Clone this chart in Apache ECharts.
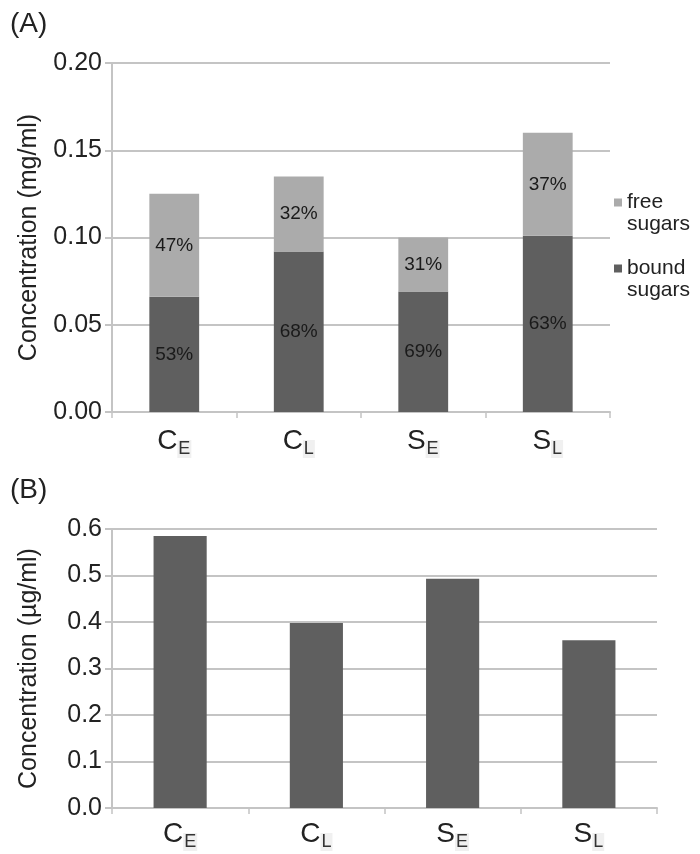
<!DOCTYPE html>
<html>
<head>
<meta charset="utf-8">
<style>html,body{margin:0;padding:0;background:#fff}#c{width:700px;height:854px}</style>
<script src="https://cdn.jsdelivr.net/npm/echarts@6/dist/echarts.min.js"></script>
</head>
<body>
<div id="c"></div>
<script>
// Categories (letter + subscript)
var catMain = ['C', 'C', 'S', 'S'];
var catSub = ['E', 'L', 'E', 'L'];
var categories = ['CE', 'CL', 'SE', 'SL'];

// Panel A: sugars (mg/ml)
var boundSugars = [0.066, 0.092, 0.069, 0.101];
var freeSugars = [0.059, 0.043, 0.031, 0.059];
var boundPct = ['53%', '68%', '69%', '63%'];
var freePct = ['47%', '32%', '31%', '37%'];
var legendNames = ['free\nsugars', 'bound\nsugars'];

// Panel B: concentration (µg/ml)
var concB = [0.585, 0.398, 0.493, 0.361];

var FONT = 'Liberation Sans, Arial, sans-serif';
var GRID = '#c4c4c4';
var DARK = '#5f5f5f';
var LIGHT = '#ababab';

function catLabel(v) {
  var idx = categories.indexOf(v);
  return '{m|' + catMain[idx] + '}{s|' + catSub[idx] + '}';
}
var catRich = {
  m: {fontSize: 28, fontFamily: FONT, color: '#222', lineHeight: 34},
  s: {fontSize: 18, fontFamily: FONT, color: '#333', lineHeight: 19, verticalAlign: 'bottom', padding: [0, 1, 0, 1], backgroundColor: '#f0f0f0'}
};

function xAxisCfg(gi, margin) {
  return {
    type: 'category', gridIndex: gi, data: categories,
    axisLine: {lineStyle: {color: GRID, width: 2}},
    axisTick: {show: true, length: 6, lineStyle: {color: GRID, width: 1.5}},
    axisLabel: {formatter: catLabel, rich: catRich, margin: margin}
  };
}
function yAxisCfg(gi, max, interval, dec, name) {
  return {
    type: 'value', gridIndex: gi, min: 0, max: max, interval: interval,
    name: name, nameLocation: 'middle', nameGap: 70,
    nameTextStyle: {fontSize: 25, fontFamily: FONT, color: '#222'},
    axisLine: {show: true, lineStyle: {color: GRID, width: 2}},
    axisTick: {show: true, length: 7, lineStyle: {color: GRID, width: 2}},
    splitLine: {lineStyle: {color: GRID, width: 2}},
    axisLabel: {fontSize: 25, fontFamily: FONT, color: '#222', margin: 10,
      formatter: function (v) { return v.toFixed(dec); }}
  };
}

var chart = echarts.init(document.getElementById('c'));
chart.setOption({
  animation: false,
  backgroundColor: '#fff',
  title: [
    {text: '(A)', left: 10, top: 10, padding: 0, textStyle: {fontSize: 28, fontWeight: 'normal', fontFamily: FONT, color: '#222'}},
    {text: '(B)', left: 10, top: 476, padding: 0, textStyle: {fontSize: 28, fontWeight: 'normal', fontFamily: FONT, color: '#222'}}
  ],
  legend: {
    data: legendNames,
    orient: 'vertical', left: 614, top: 170, padding: 0, itemGap: 1,
    icon: 'rect', itemWidth: 8, itemHeight: 8,
    formatter: function (n) {
      var parts = n.split('\n');
      return '{e|\u00a0}\n{t|' + parts[0] + '}\n{t|' + parts[1] + '}';
    },
    textStyle: {
      rich: {
        e: {fontSize: 21, lineHeight: 22, fontFamily: FONT},
        t: {fontSize: 21, lineHeight: 22, fontFamily: FONT, color: '#222'}
      }
    }
  },
  grid: [
    {left: 112, top: 63, width: 498, height: 349},
    {left: 112, top: 529, width: 545, height: 279}
  ],
  xAxis: [xAxisCfg(0, 12), xAxisCfg(1, 9)],
  yAxis: [
    yAxisCfg(0, 0.2, 0.05, 2, 'Concentration (mg/ml)'),
    yAxisCfg(1, 0.6, 0.1, 1, 'Concentration (µg/ml)')
  ],
  series: [
    {name: legendNames[1], type: 'bar', stack: 'a', xAxisIndex: 0, yAxisIndex: 0,
      data: boundSugars, barWidth: '40%', itemStyle: {color: DARK},
      label: {show: true, position: 'inside', fontSize: 19, fontFamily: FONT, color: '#1a1a1a',
        formatter: function (p) { return boundPct[p.dataIndex]; }}},
    {name: legendNames[0], type: 'bar', stack: 'a', xAxisIndex: 0, yAxisIndex: 0,
      data: freeSugars, barWidth: '40%', itemStyle: {color: LIGHT},
      label: {show: true, position: 'inside', fontSize: 19, fontFamily: FONT, color: '#1a1a1a',
        formatter: function (p) { return freePct[p.dataIndex]; }}},
    {name: 'concentration', type: 'bar', xAxisIndex: 1, yAxisIndex: 1,
      data: concB, barWidth: '39%', itemStyle: {color: DARK}}
  ]
});
</script>
</body>
</html>
